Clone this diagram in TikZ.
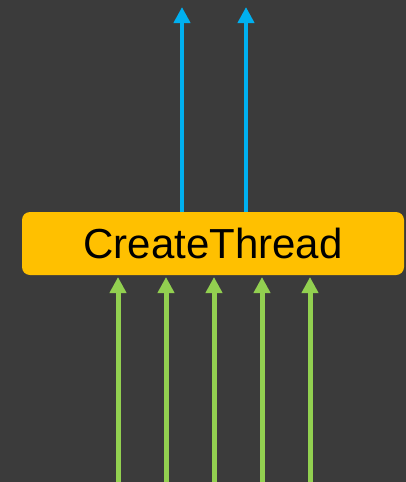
\documentclass[tikz,border=0pt]{standalone}
\usepackage{fontspec}
\setmainfont{Liberation Sans}
\usetikzlibrary{arrows.meta}
\definecolor{bg}{HTML}{3B3B3B}
\definecolor{boxyellow}{HTML}{FFC000}
\definecolor{outblue}{HTML}{00B0F0}
\definecolor{ingreen}{HTML}{92D050}
\tikzset{
  funcbox/.style={fill=boxyellow, rounded corners=8pt, minimum width=382pt,
    minimum height=63pt, inner sep=0pt, font=\fontsize{42}{48}\selectfont, text=black},
  outarrow/.style={draw=outblue, line width=4.5pt, -{Triangle[width=16pt,length=16pt]}},
  inarrow/.style={draw=ingreen, line width=5pt, -{Triangle[width=16pt,length=16pt]}}
}
\begin{document}
\begin{tikzpicture}[x=1pt,y=-1pt]
  \fill[bg] (0,0) rectangle (406,482);
  \useasboundingbox (0,0) rectangle (406,482);
  \node[funcbox] (ct) at (213,243.5) {CreateThread};
  % outputs
  \coordinate (o1) at (182,7);
  \coordinate (o2) at (246,7);
  \draw[outarrow] (ct.north -| o1) -- (o1);
  \draw[outarrow] (ct.north -| o2) -- (o2);
  % inputs
  \foreach \x [count=\i] in {118,166,214,262,310} {
    \coordinate (i\i) at (\x,482);
    \coordinate (t\i) at (\x,277);
    \draw[inarrow] (i\i) -- (t\i);
  }
\end{tikzpicture}
\end{document}
